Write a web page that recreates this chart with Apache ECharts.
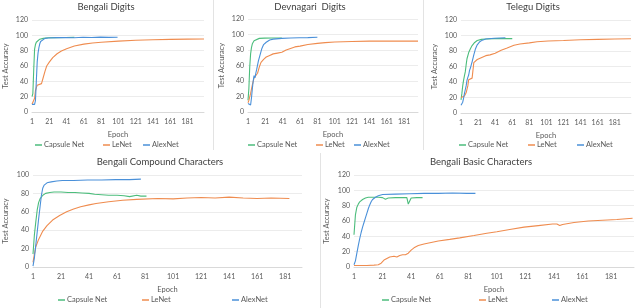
<!DOCTYPE html>
<html><head><meta charset="utf-8">
<script src="https://cdn.jsdelivr.net/npm/echarts@6/dist/echarts.min.js"></script>
<style>html,body{margin:0;padding:0;background:#fff}#c{width:640px;height:308px}</style>
</head><body><div id="c"></div>
<script>
// ---- Data: [epoch, test accuracy] ----
const seriesNames = ['Capsule Net', 'LeNet', 'AlexNet'];
const panelTitles = ['Bengali Digits', 'Devnagari  Digits', 'Telegu Digits', 'Bengali Compound Characters', 'Bengali Basic Characters'];
const epochCounts = [200, 197, 200, 193, 197];
const yMaxes = [120, 120, 120, 100, 120];

// Bengali Digits
const capsBD = [[1,20],[2,24],[3,55],[4,82],[5,88],[6,91],[8,93.5],[10,95],[14,96],[20,96.8],[30,97],[40,97.2],[50,97.3]];
const lenetBD = [[1,10],[3,11],[4,18],[5,28],[7,35],[9,36],[12,37],[14,45],[16,53],[18,60],[21,65],[25,71],[30,76],[35,79.5],[41,82.5],[50,86],[61,88.5],[71,90],[81,91],[101,92.5],[121,93.5],[141,94.3],[161,94.7],[181,95],[200,95.2]];
const alexBD = [[1,10],[4,10],[5,15],[6,40],[7,65],[8,77],[9,84],[10,89],[11,92],[13,94],[16,96],[20,96.5],[30,97],[40,97.2],[50,96.9],[60,97.5],[70,97.2],[80,97.6],[90,97.3],[100,97.5]];

// Devnagari Digits
const capsDD = [[1,15],[2,30],[3,58],[4,75],[5,83],[6,88],[8,92],[10,94],[14,95],[20,95.3],[30,95.5],[40,95.5]];
const lenetDD = [[1,12],[2,15],[4,24],[6,35],[8,44],[10,46],[12,50],[14,58],[16,64],[19,68],[22,71],[26,73],[30,75],[35,76],[40,77],[45,80],[50,82],[55,84],[61,85],[70,87],[81,88.5],[90,89.5],[101,90.3],[121,91],[141,91.5],[161,91.7],[181,91.5],[197,91.5]];
const alexDD = [[1,11],[3,10],[4,9],[5,18],[6,30],[7,40],[8,47],[9,44],[10,50],[11,55],[13,66],[15,74],[17,82],[19,87],[22,90],[26,93],[30,94],[40,95],[50,95.5],[60,95.8],[70,96],[81,96.5]];

// Telegu Digits
const capsTD = [[1,17],[2,25],[3,35],[4,42],[5,48],[6,53],[7,62],[8,70],[10,78],[12,83],[14,87],[17,91],[20,93.5],[25,95],[30,95.5],[40,96],[50,96],[61,96]];
const lenetTD = [[1,20],[3,18],[5,22],[7,26],[9,35],[10,43],[12,44],[14,45],[15,55],[16,65],[18,67],[20,69],[22,71],[26,72],[30,74],[35,75],[41,77],[48,81],[55,84],[63,87.5],[70,89],[81,90.5],[90,92],[103,93],[121,93.5],[141,94.5],[161,95],[181,95.5],[200,95.8]];
const alexTD = [[1,10],[2,10],[3,14],[4,19],[5,25],[6,30],[7,35],[8,42],[9,46],[10,49],[11,55],[12,58],[13,62],[14,66],[16,75],[18,83],[20,88],[23,92],[26,94],[30,95.5],[40,96.5],[53,97]];

// Bengali Compound Characters
const capsBC = [[1,14],[2,35],[3,49],[4,62],[5,70],[6,74],[8,78],[10,80],[13,81],[16,81.5],[21,81.5],[26,81],[31,81],[36,80.5],[41,80],[45,79],[50,78.5],[55,78],[61,78],[66,77.5],[70,76.5],[75,78],[78,77],[82,77]];
const lenetBC = [[1,5],[2,14],[3,22],[5,30],[8,39],[11,45],[15,51],[20,56],[25,60],[30,63],[35,65.5],[41,67.5],[46,69],[55,71],[65,72.5],[75,73.5],[90,74.5],[101,74],[111,75],[121,75.5],[131,75],[141,76],[151,75],[161,74.5],[171,75],[184,74.5]];
const alexBC = [[1,1],[2,10],[3,24],[4,38],[5,52],[6,65],[7,78],[8,86],[9,89],[11,91.5],[14,92.5],[18,93.5],[22,94],[30,94],[40,94.5],[50,94.5],[60,95],[70,95],[78,95.5]];

// Bengali Basic Characters
const capsBB = [[1,42],[2,68],[3,78],[4,82],[5,85],[7,88],[9,90],[11,91],[15,91],[18,91],[21,90.5],[23,88.5],[25,90],[30,90.5],[35,90.5],[38,90.5],[39,82],[40,86],[41,90],[45,90.5],[49,90.5]];
const lenetBB = [[1,2],[5,2],[10,2],[15,2.5],[18,3],[20,5],[21,7],[22,9],[23,8],[24,11],[25,10],[26,13],[27,12],[29,14],[31,13],[33,15],[35,16],[37,16],[39,18],[41,22],[43,25],[46,28],[50,30],[55,32],[60,34],[68,36],[75,38],[85,41],[94,44],[101,46],[110,49],[120,52],[130,54],[140,56],[143,56],[145,54],[147,55.5],[155,58],[165,60],[175,61],[185,62],[196,63.5]];
const alexBB = [[1,3],[2,8],[3,18],[4,28],[5,37],[6,45],[7,52],[8,58],[9,64],[10,70],[11,76],[12,81],[13,85],[14,88],[16,91],[18,93],[21,94.5],[30,95],[40,95.5],[50,96],[60,96],[70,96.5],[80,96],[86,96]];

const panelData = [
  [capsBD, lenetBD, alexBD],
  [capsDD, lenetDD, alexDD],
  [capsTD, lenetTD, alexTD],
  [capsBC, lenetBC, alexBC],
  [capsBB, lenetBB, alexBB]
];

// ---- Layout (pixels) ----
const colors = ['#4cbd7c', '#ef8c4f', '#4a90d9'];
const grids = [
  {left: 32, top: 20, width: 172, height: 92},
  {left: 248, top: 19, width: 170, height: 93},
  {left: 461, top: 20, width: 170, height: 93},
  {left: 33, top: 175, width: 269, height: 92},
  {left: 354, top: 175, width: 280, height: 92}
];
const titlePos = [[106, 2], [310, 2], [533, 2], [160, 157], [481, 157]];
const legendY = [141, 141, 141, 296, 296];
const legendX = [[35, 103, 143], [248, 316, 354], [459, 528, 577], [58, 142, 232], [382, 479, 552]];
const yNameGap = [22, 22, 22, 23, 23];

const font = 'Lato, "Open Sans", sans-serif';
const txt = '#595959';

const option = {
  animation: false,
  color: colors,
  title: [], grid: [], xAxis: [], yAxis: [], legend: [], series: [],
  graphic: [
    {type: 'line', shape: {x1: 213.5, y1: 0, x2: 213.5, y2: 150}, style: {stroke: '#e3e3e3', lineWidth: 1}},
    {type: 'line', shape: {x1: 423.5, y1: 0, x2: 423.5, y2: 150}, style: {stroke: '#e3e3e3', lineWidth: 1}},
    {type: 'line', shape: {x1: 320.5, y1: 153, x2: 320.5, y2: 308}, style: {stroke: '#e3e3e3', lineWidth: 1}}
  ]
};

for (let p = 0; p < 5; p++) {
  const cats = Array.from({length: epochCounts[p]}, (_, i) => String(i + 1));
  option.title.push({text: panelTitles[p], left: titlePos[p][0], top: titlePos[p][1], textAlign: 'center', padding: 0,
    textStyle: {fontFamily: font, fontSize: 9.5, fontWeight: 'normal', color: '#404040'}});
  option.grid.push(Object.assign({containLabel: false}, grids[p]));
  option.xAxis.push({type: 'category', gridIndex: p, data: cats, boundaryGap: false,
    name: 'Epoch', nameLocation: 'middle', nameGap: 19,
    nameTextStyle: {fontFamily: font, fontSize: 7.5, color: txt},
    axisLine: {lineStyle: {color: '#d9d9d9'}}, axisTick: {show: false},
    axisLabel: {interval: 19, fontFamily: font, fontSize: 7, color: txt, margin: 6},
    splitLine: {show: false}});
  option.yAxis.push({type: 'value', gridIndex: p, min: 0, max: yMaxes[p], interval: 20,
    name: 'Test Accuracy', nameLocation: 'middle', nameGap: yNameGap[p],
    nameTextStyle: {fontFamily: font, fontSize: 7.5, color: txt},
    axisLine: {show: false}, axisTick: {show: false},
    axisLabel: {fontFamily: font, fontSize: 7, color: txt, margin: 4},
    splitLine: {lineStyle: {color: '#ececec', width: 1}}});
  for (let s = 0; s < 3; s++) {
    option.series.push({type: 'line', name: seriesNames[s], xAxisIndex: p, yAxisIndex: p,
      showSymbol: false, symbol: 'none', z: s === 2 ? 3 : 2,
      lineStyle: {width: 1.1, color: colors[s]}, itemStyle: {color: colors[s]},
      data: panelData[p][s].map(d => [d[0] - 1, d[1]])});
    option.legend.push({data: [seriesNames[s]], left: legendX[p][s], top: legendY[p], padding: 0,
      icon: 'rect', itemWidth: 7, itemHeight: 1.5, selectedMode: false,
      textStyle: {fontFamily: font, fontSize: 7.5, color: txt, padding: [0, 0, 0, -3]}});
  }
}

const chart = echarts.init(document.getElementById('c'), null, {renderer: 'canvas'});
chart.setOption(option);
</script>
</body></html>
